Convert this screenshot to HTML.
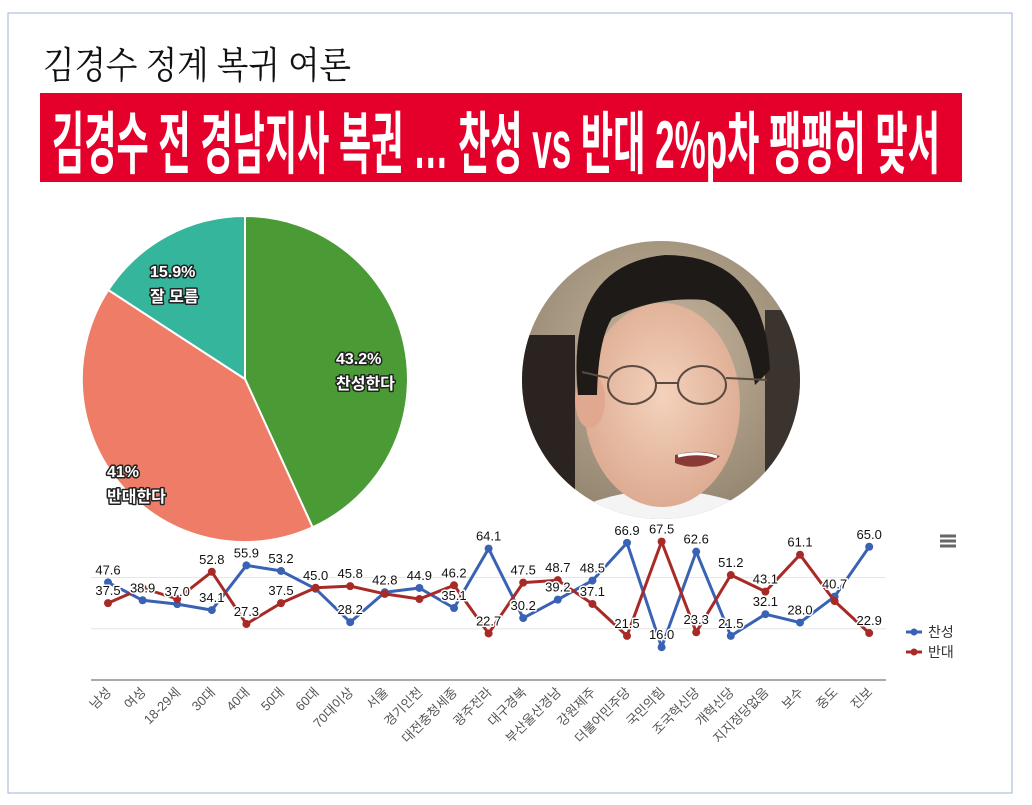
<!DOCTYPE html>
<html><head><meta charset="utf-8"><style>
html,body{margin:0;padding:0;background:#fff;}
body{width:1032px;height:805px;overflow:hidden;position:relative;}
svg{position:absolute;left:0;top:0;}
</style></head><body>
<svg width="1032" height="805" viewBox="0 0 1032 805" xmlns="http://www.w3.org/2000/svg">
<defs>
<clipPath id="cc"><circle cx="661" cy="380" r="139"/></clipPath>
<radialGradient id="bg" cx="0.5" cy="0.4" r="0.7"><stop offset="0" stop-color="#c9b8a0"/><stop offset="1" stop-color="#8a7c68"/></radialGradient>
<radialGradient id="skin" cx="0.5" cy="0.45" r="0.6"><stop offset="0" stop-color="#f4d2bc"/><stop offset="1" stop-color="#dba88e"/></radialGradient>
</defs>
<rect x="8" y="13" width="1004" height="780" fill="none" stroke="#9fb3da" stroke-width="1"/>
<text x="43" y="78" font-family="'Noto Serif CJK SC','Liberation Serif',serif" font-size="37" fill="#111" textLength="308" lengthAdjust="spacingAndGlyphs">김경수 정계 복귀 여론</text>
<rect x="40" y="93" width="922" height="89" fill="#e4002b"/>
<text x="52" y="168" font-family="'Liberation Sans','Noto Sans CJK KR',sans-serif" font-weight="bold" font-size="68" fill="#fff" textLength="888" lengthAdjust="spacingAndGlyphs">김경수 전 경남지사 복권 … 찬성 vs 반대 2%p차 팽팽히 맞서</text>

<g stroke="#fff" stroke-width="2">
<path d="M245,379 L245,216 A163,163 0 0,1 312.6,527.3 Z" fill="#4a9a36"/>
<path d="M245,379 L312.6,527.3 A163,163 0 0,1 108.3,290 Z" fill="#ef7c66"/>
<path d="M245,379 L108.3,290 A163,163 0 0,1 245,216 Z" fill="#35b59c"/>
</g>
<g font-family="'Liberation Sans','Noto Sans CJK KR',sans-serif" font-weight="bold" font-size="16" fill="#fff" stroke="#222" stroke-width="3" paint-order="stroke" stroke-linejoin="round">
<text x="150" y="277">15.9%</text><text x="150" y="302">잘 모름</text>
<text x="336" y="364">43.2%</text><text x="336" y="389">찬성한다</text>
<text x="107" y="477">41%</text><text x="107" y="502">반대한다</text>
</g>

<g clip-path="url(#cc)">
<rect x="520" y="240" width="285" height="285" fill="url(#bg)"/>
<rect x="520" y="335" width="55" height="200" fill="#2a2320"/>
<rect x="765" y="310" width="45" height="220" fill="#3b342e"/>
<path d="M585,505 Q660,475 745,505 L760,530 L575,530 Z" fill="#f4f4f4"/>
<ellipse cx="662" cy="405" rx="78" ry="102" fill="url(#skin)"/>
<ellipse cx="590" cy="400" rx="15" ry="28" fill="#e0a88e"/>
<path d="M578,395 Q565,265 665,255 Q765,255 770,370 L755,385 Q745,315 705,300 Q655,296 612,318 Q598,340 597,395 Z" fill="#1d1a18"/>
<g fill="none" stroke="#5a4a40" stroke-width="2">
<ellipse cx="632" cy="385" rx="24" ry="19"/><ellipse cx="702" cy="385" rx="24" ry="19"/>
<path d="M656,383 L678,383 M608,378 L582,372 M726,378 L767,380"/>
</g>
<path d="M675,455 Q700,448 720,456 Q700,473 675,463 Z" fill="#8a3a34"/>
<path d="M678,456 Q700,451 717,457" stroke="#fff" stroke-width="3" fill="none"/>
</g>

<g stroke="#e6e6e6" stroke-width="1"><line x1="91" y1="577.5" x2="886" y2="577.5"/><line x1="91" y1="628.8" x2="886" y2="628.8"/></g>
<line x1="91" y1="680" x2="886" y2="680" stroke="#555" stroke-width="1"/>
<g fill="#666" stroke="#666" stroke-width="3"><line x1="940" y1="536" x2="956" y2="536"/><line x1="940" y1="541" x2="956" y2="541"/><line x1="940" y1="546" x2="956" y2="546"/></g>
<g font-family="'Liberation Sans','Noto Sans CJK KR',sans-serif" font-size="14" fill="#333">
<line x1="906" y1="632" x2="922" y2="632" stroke="#3a62b4" stroke-width="3"/><circle cx="914" cy="632" r="3.5" fill="#3a62b4"/><text x="928" y="637">찬성</text>
<line x1="906" y1="652" x2="922" y2="652" stroke="#a82a27" stroke-width="3"/><circle cx="914" cy="652" r="3.5" fill="#a82a27"/><text x="928" y="657">반대</text>
</g>
<g id="chart"></g>
</svg>
<script>
var B=[47.6,38.9,37.0,34.1,55.9,53.2,44.5,28.2,42.8,44.9,35.1,64.1,30.2,39.2,48.5,66.9,16.0,62.6,21.5,32.1,28.0,40.7,65.0];
var R=[37.5,44.9,39.5,52.8,27.3,37.5,45.0,45.8,42.0,39.5,46.2,22.7,47.5,48.7,37.1,21.5,67.5,23.3,51.2,43.1,61.1,38.5,22.9];
var cats=["남성","여성","18-29세","30대","40대","50대","60대","70대이상","서울","경기인천","대전충청세종","광주전라","대구경북","부산울산경남","강원제주","더불어민주당","국민의힘","조국혁신당","개혁신당","지지정당없음","보수","중도","진보"];
var bl={0:"47.6",1:"38.9",2:"37.0",3:"34.1",4:"55.9",5:"53.2",7:"28.2",8:"42.8",9:"44.9",10:"35.1",11:"64.1",12:"30.2",13:"39.2",14:"48.5",15:"66.9",16:"16.0",17:"62.6",18:"21.5",19:"32.1",20:"28.0",21:"40.7",22:"65.0"};
var rl={0:"37.5",3:"52.8",4:"27.3",5:"37.5",6:"45.0",7:"45.8",10:"46.2",11:"22.7",12:"47.5",13:"48.7",14:"37.1",15:"21.5",16:"67.5",17:"23.3",18:"51.2",19:"43.1",20:"61.1",22:"22.9"};
function X(i){return 108+i*34.6;}function Y(v){return 680-v*2.05;}
var s="";
function series(a,c){var p=a.map(function(v,i){return X(i).toFixed(1)+","+Y(v).toFixed(1)}).join(" ");
var o='<polyline points="'+p+'" fill="none" stroke="'+c+'" stroke-width="3" stroke-linejoin="round"/>';
a.forEach(function(v,i){o+='<circle cx="'+X(i)+'" cy="'+Y(v)+'" r="4" fill="'+c+'"/>';});return o;}
s+=series(B,"#3a62b4")+series(R,"#a82a27");
function labs(a,L){var o="";for(var k in L){var i=+k;o+='<text x="'+X(i)+'" y="'+(Y(a[i])-8)+'" text-anchor="middle">'+L[k]+'</text>';}return o;}
s+='<g font-family="Liberation Sans,sans-serif" font-size="13" fill="#111" stroke="#fff" stroke-width="3" paint-order="stroke" stroke-linejoin="round">'+labs(B,bl)+labs(R,rl)+'</g>';
s+='<g font-family="\'Liberation Sans\',\'Noto Sans CJK KR\',sans-serif" font-size="13" fill="#555">';
cats.forEach(function(c,i){var x=X(i)+4,y=693;s+='<text x="'+x+'" y="'+y+'" text-anchor="end" transform="rotate(-45 '+x+' '+y+')">'+c+'</text>';});
s+='</g>';
document.getElementById("chart").innerHTML=s;
</script>
</body></html>
